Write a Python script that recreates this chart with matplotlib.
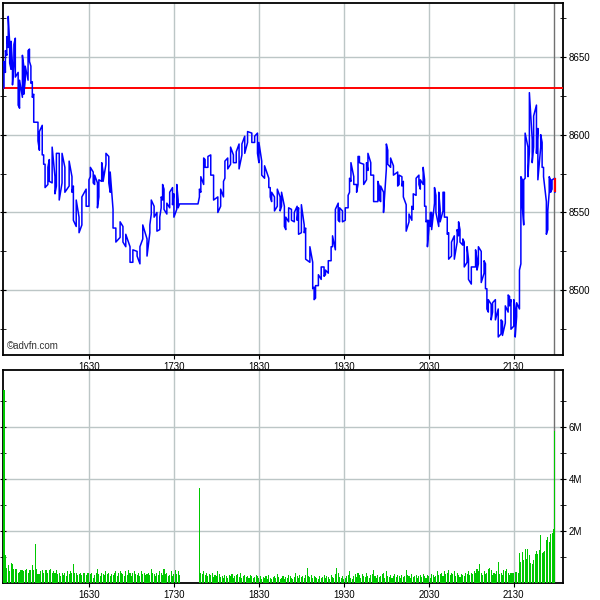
import matplotlib
matplotlib.use('Agg')
import matplotlib.pyplot as plt
from matplotlib.ticker import MultipleLocator, FixedLocator, FuncFormatter

plt.rcParams['font.family'] = ['Liberation Sans', 'DejaVu Sans']

# minutes after 15:30, one entry per (sampled) price bar
bar_min = [0, 1, 2, 3, 4, 5, 6, 7, 8, 10,
           11, 13, 14, 15, 17, 18, 19, 20, 21, 24,
           25, 27, 28, 29, 31, 32, 34, 36, 37, 39,
           41, 43, 46, 48, 49, 51, 53, 55, 58, 60,
           61, 63, 64, 66, 67, 69, 70, 72, 74, 75,
           77, 79, 82, 84, 86, 89, 91, 94, 96, 98,
           101, 103, 104, 106, 108, 110, 111, 112, 113, 115,
           117, 119, 120, 122, 123, 124, 137, 138, 139, 141,
           142, 144, 146, 148, 151, 153, 155, 156, 158, 160,
           162, 164, 166, 168, 170, 172, 175, 177, 179, 180,
           182, 184, 187, 188, 189, 191, 193, 195, 196, 198,
           199, 201, 203, 205, 207, 208, 210, 212, 213, 216,
           218, 219, 220, 222, 224, 226, 227, 229, 231, 232,
           234, 236, 237, 239, 241, 243, 244, 245, 247, 249,
           250, 251, 254, 256, 257, 259, 261, 264, 265, 266,
           268, 270, 271, 273, 275, 278, 279, 281, 282, 284,
           286, 288, 289, 291, 293, 294, 296, 297, 298, 299,
           300, 301, 302, 304, 305, 307, 308, 310, 311, 313,
           314, 316, 318, 320, 321, 322, 324, 325, 327, 328,
           330, 333, 334, 335, 337, 339, 340, 341, 342, 344,
           345, 347, 349, 351, 352, 354, 356, 357, 358, 360,
           361, 362, 364, 365, 366, 367, 368, 370, 371, 373,
           374, 376, 377, 379, 380, 381, 383, 384, 385, 386,
           387, 389]

bar_high = [8647, 8654, 8663, 8676, 8659, 8660, 8645, 8658, 8662, 8640,
            8635, 8651, 8644, 8644, 8654, 8655, 8644, 8634, 8626, 8608,
            8602, 8606, 8587, 8581, 8579, 8584, 8592, 8573, 8588, 8588,
            8588, 8579, 8583, 8573, 8567, 8558, 8547, 8560, 8565, 8571,
            8579, 8576, 8574, 8569, 8571, 8582, 8576, 8588, 8586, 8576,
            8552, 8540, 8544, 8541, 8536, 8528, 8526, 8525, 8528, 8542,
            8533, 8542, 8558, 8554, 8550, 8547, 8560, 8568, 8565, 8556,
            8563, 8566, 8562, 8568, 8558, 8555.5, 8555.5, 8565, 8573, 8585,
            8584, 8586, 8587, 8574, 8560, 8565, 8570, 8583, 8585, 8592,
            8587, 8589, 8594, 8594, 8599, 8602, 8601, 8599, 8601, 8595,
            8583, 8580, 8572, 8566, 8563, 8560, 8565, 8560, 8563, 8554,
            8547, 8553, 8552, 8550, 8554, 8553, 8555, 8542, 8540, 8528,
            8518, 8502, 8503, 8510, 8515, 8515, 8513, 8519, 8528, 8535,
            8552, 8556, 8553, 8551, 8553, 8561, 8572, 8582, 8573, 8568,
            8586, 8586, 8581, 8582, 8588, 8582, 8574, 8570, 8567, 8567,
            8563, 8594, 8590, 8585, 8580, 8576, 8574, 8573, 8570, 8555,
            8549, 8554, 8562, 8572, 8574, 8571, 8579, 8571, 8554, 8545,
            8545, 8550, 8550, 8566, 8561, 8563, 8552, 8563, 8563, 8547,
            8537, 8531, 8535, 8539, 8544, 8539, 8533, 8531, 8528, 8520,
            8515, 8526, 8520, 8528, 8525, 8519, 8517, 8501, 8494, 8491,
            8492, 8494, 8488, 8481, 8480, 8490, 8497, 8496, 8494, 8494,
            8488, 8492, 8513, 8573, 8571, 8571, 8601, 8592, 8627, 8597,
            8612, 8619, 8604, 8600, 8595, 8579, 8557, 8551, 8573, 8571,
            8571, 8572]

bar_low = [8630, 8640, 8651, 8656, 8646, 8642, 8632, 8645, 8637, 8619,
           8617, 8624, 8626, 8635, 8635, 8647, 8633, 8624, 8608, 8596,
           8590, 8587, 8581, 8566, 8568, 8570, 8569, 8562, 8567, 8558,
           8569, 8563, 8567, 8563, 8545, 8541, 8537, 8542, 8554, 8554,
           8573, 8569, 8568, 8553, 8560, 8570, 8570, 8581, 8569, 8563,
           8540, 8531, 8534, 8531, 8528, 8518, 8518, 8522, 8517, 8533,
           8522, 8537, 8549, 8547, 8538, 8539, 8553, 8558, 8552, 8549,
           8553, 8555, 8547, 8552, 8553, 8555.5, 8555.5, 8560, 8563, 8568,
           8579, 8579, 8574, 8558, 8550, 8554, 8560, 8572, 8578, 8581,
           8582, 8582, 8578, 8587, 8588, 8595, 8595, 8595, 8588, 8582,
           8574, 8572, 8566, 8560, 8557, 8551, 8554, 8551, 8554, 8541,
           8539, 8544, 8545, 8544, 8545, 8536, 8537, 8537, 8520, 8518,
           8501, 8494, 8495, 8503, 8507, 8509, 8510, 8511, 8519, 8528,
           8526, 8545, 8544, 8544, 8545, 8553, 8563, 8570, 8568, 8563,
           8568, 8582, 8568, 8571, 8577, 8574, 8557, 8557, 8558, 8557,
           8550, 8578, 8581, 8579, 8574, 8567, 8568, 8567, 8560, 8538,
           8544, 8545, 8552, 8561, 8568, 8565, 8568, 8554, 8544, 8528,
           8539, 8541, 8539, 8556, 8550, 8541, 8544, 8551, 8547, 8536,
           8520, 8522, 8520, 8531, 8535, 8531, 8529, 8515, 8518, 8507,
           8504, 8515, 8513, 8517, 8505, 8511, 8501, 8488, 8486, 8481,
           8486, 8481, 8470, 8472, 8471, 8479, 8486, 8490, 8475, 8477,
           8470, 8483, 8488, 8517, 8554, 8542, 8572, 8573, 8589, 8582,
           8592, 8588, 8571, 8592, 8579, 8573, 8536, 8539, 8563, 8563,
           8565, 8563]

# volume per minute from 15:30 to 21:59, millions
volume = [7.45, 1.10, 0.60, 0.70, 0.46, 0.77, 0.72, 0.56, 0.53, 0.53,
          0.40, 0.44, 0.49, 0.49, 0.46, 0.51, 0.56, 0.40, 0.49, 0.49,
          0.70, 0.49, 1.50, 0.56, 0.36, 0.36, 0.46, 0.50, 0.40, 0.49,
          0.49, 0.40, 0.49, 0.56, 0.40, 0.46, 0.40, 0.49, 0.36, 0.40,
          0.27, 0.40, 0.33, 0.40, 0.27, 0.46, 0.36, 0.46, 0.40, 0.74,
          0.40, 0.40, 0.31, 0.36, 0.40, 0.31, 0.40, 0.40, 0.31, 0.40,
          0.40, 0.36, 0.40, 0.20, 0.31, 0.40, 0.56, 0.36, 0.27, 0.40,
          0.36, 0.31, 0.46, 0.36, 0.40, 0.27, 0.36, 0.31, 0.40, 0.46,
          0.27, 0.40, 0.46, 0.40, 0.36, 0.27, 0.46, 0.31, 0.49, 0.40,
          0.27, 0.40, 0.46, 0.36, 0.31, 0.40, 0.27, 0.46, 0.36, 0.40,
          0.31, 0.36, 0.40, 0.31, 0.56, 0.40, 0.36, 0.27, 0.40, 0.31,
          0.46, 0.40, 0.31, 0.53, 0.36, 0.40, 0.27, 0.31, 0.46, 0.27,
          0.36, 0.50, 0.36, 0.46, 0.31, 0, 0, 0, 0, 0,
          0, 0, 0, 0, 0, 0, 0, 0, 3.65, 0.40,
          0.36, 0.46, 0.31, 0.40, 0.27, 0.36, 0.31, 0.40, 0.23, 0.31,
          0.27, 0.46, 0.36, 0.23, 0.27, 0.20, 0.31, 0.27, 0.20, 0.31,
          0.27, 0.36, 0.20, 0.27, 0.31, 0.36, 0.23, 0.40, 0.20, 0.27,
          0.31, 0.23, 0.27, 0.20, 0.31, 0.27, 0.20, 0.23, 0.31, 0.27,
          0.20, 0.27, 0.15, 0.23, 0.20, 0.27, 0.15, 0.31, 0.20, 0.15,
          0.23, 0.27, 0.20, 0.36, 0.23, 0.15, 0.20, 0.27, 0.15, 0.23,
          0.20, 0.31, 0.27, 0.20, 0.15, 0.23, 0.40, 0.27, 0.20, 0.31,
          0.23, 0.27, 0.20, 0.31, 0.60, 0.27, 0.23, 0.31, 0.20, 0.27,
          0.23, 0.20, 0.15, 0.27, 0.20, 0.23, 0.31, 0.20, 0.27, 0.23,
          0.15, 0.31, 0.23, 0.20, 0.36, 0.60, 0.40, 0.23, 0.20, 0.27,
          0.15, 0.20, 0.27, 0.31, 0.46, 0.20, 0.15, 0.27, 0.36, 0.23,
          0.40, 0.31, 0.20, 0.36, 0.27, 0.23, 0.40, 0.27, 0.20, 0.31,
          0.36, 0.50, 0.27, 0.20, 0.31, 0.23, 0.27, 0.36, 0.40, 0.20,
          0.47, 0.27, 0.23, 0.31, 0.20, 0.27, 0.36, 0.23, 0.31, 0.27,
          0.20, 0.31, 0.23, 0.27, 0.50, 0.31, 0.27, 0.20, 0.36, 0.23,
          0.27, 0.31, 0.20, 0.27, 0.31, 0.23, 0.36, 0.27, 0.20, 0.31,
          0.27, 0.20, 0.36, 0.31, 0.23, 0.27, 0.46, 0.31, 0.36, 0.40,
          0.27, 0.46, 0.36, 0.40, 0.50, 0.31, 0.40, 0.36, 0.46, 0.27,
          0.40, 0.31, 0.23, 0.36, 0.31, 0.27, 0.40, 0.36, 0.46, 0.31,
          0.40, 0.36, 0.46, 0.40, 0.56, 0.46, 0.73, 0.40, 0.31, 0.46,
          0.36, 0.40, 0.56, 0.60, 0.50, 0.31, 0.40, 0.36, 0.46, 0.80,
          0.36, 0.40, 0.31, 0.50, 0.46, 0.53, 0.40, 0.31, 0.40, 0.41,
          0.41, 0.44, 0.44, 0.41, 1.18, 0.83, 1.22, 0.90, 1.31, 0.95,
          1.31, 1.09, 0.76, 0.73, 0.90, 1.14, 1.24, 1.14, 1.28, 1.86,
          1.18, 1.20, 1.24, 1.65, 1.78, 1.60, 1.88, 1.95, 2.08, 5.86]

time_ticks = [60, 120, 180, 240, 300, 360]
time_labels = ['1630', '1730', '1830', '1930', '2030', '2130']
vol_ticks = [2, 4, 6]
vol_labels = ['2M', '4M', '6M']
prev_close = 8630
session_end = 388.3

grid_col = '#bcc6c6'
fs = 7

fig = plt.figure(figsize=(6, 6), dpi=100)
ax1 = fig.add_axes([0.005, 0.408, 0.933, 0.587])
ax2 = fig.add_axes([0.005, 0.028, 0.933, 0.355])

# price: zig-zag through each bar's range so it reads as a continuous trace
pt_t, pt_p = [], []
last = bar_low[0]
for t, h, l in zip(bar_min, bar_high, bar_low):
    seq = (h, l) if abs(last - h) < abs(last - l) else (l, h)
    pt_t += [t, t]
    pt_p += list(seq)
    last = seq[1]

ax1.axhline(prev_close, color='#ff0000', lw=1.4, zorder=3)
ax1.plot(pt_t, pt_p, color='#0000ff', lw=1.1, zorder=4)
ax1.vlines(bar_min[-1], bar_low[-1], bar_high[-1], color='#ff0000', lw=1.6, zorder=5)
ax1.axvline(session_end, color='#707070', lw=1, zorder=2)

ax1.set_xlim(-0.7, 394.6)
ax1.set_ylim(8458.3, 8684.6)
ax1.yaxis.tick_right()
ax1.yaxis.set_major_locator(MultipleLocator(50))
ax1.yaxis.set_minor_locator(MultipleLocator(25))
ax1.text(0.007, 0.012, '\u00a9advfn.com', transform=ax1.transAxes,
         fontsize=fs, color='#333333', ha='left', va='bottom')

# volume
vol_t = [i for i, v in enumerate(volume) if v > 0]
vol_v = [v for v in volume if v > 0]
ax2.bar(vol_t, vol_v, width=0.75, color='#00c800', edgecolor='none', zorder=3)
ax2.axvline(session_end, color='#707070', lw=1, zorder=2)
ax2.set_xlim(-0.7, 394.6)
ax2.set_ylim(0, 8.2)
ax2.yaxis.tick_right()
ax2.yaxis.set_major_locator(FixedLocator(vol_ticks))
ax2.yaxis.set_minor_locator(FixedLocator([1, 3, 5, 7]))
ax2.set_yticklabels(vol_labels)

for ax in (ax1, ax2):
    ax.set_xticks(time_ticks)
    ax.set_xticklabels(time_labels)
    ax.grid(True, which='major', color=grid_col, lw=1, zorder=0)
    ax.set_axisbelow(True)
    ax.tick_params(axis='x', direction='out', length=3, labelsize=fs, pad=2)
    ax.tick_params(axis='y', which='both', direction='inout', length=4,
                   labelsize=fs, pad=2, right=True, left=True)
    for s in ax.spines.values():
        s.set_linewidth(1.3)
        s.set_color('black')

fig.savefig('out.png', dpi=100, facecolor='white')
